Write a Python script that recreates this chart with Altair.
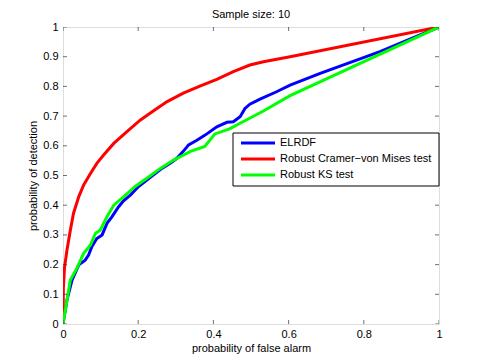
import altair as alt
import pandas as pd

# ELRDF (blue)
elrdf_x = [0.0, 0.0106, 0.024, 0.042, 0.059, 0.068, 0.077, 0.090, 0.104, 0.117, 0.130, 0.148, 0.161,
           0.179, 0.201, 0.223, 0.246, 0.263, 0.285, 0.303, 0.321, 0.334, 0.355, 0.378, 0.409, 0.436,
           0.453, 0.471, 0.484, 0.497, 0.524, 0.568, 0.604, 0.684, 0.843, 1.0]
elrdf_y = [0.0, 0.081, 0.148, 0.199, 0.215, 0.232, 0.261, 0.288, 0.300, 0.339, 0.361, 0.395, 0.415,
           0.434, 0.463, 0.485, 0.507, 0.524, 0.541, 0.558, 0.583, 0.603, 0.618, 0.636, 0.664, 0.679,
           0.681, 0.698, 0.726, 0.740, 0.757, 0.782, 0.804, 0.844, 0.917, 1.0]

# Robust Cramer-von Mises test (red)
cvm_x = [0.0, 0.001, 0.004, 0.0106, 0.0195, 0.028, 0.042, 0.055, 0.073, 0.090, 0.108, 0.135, 0.170, 0.206,
         0.241, 0.277, 0.320, 0.364, 0.409, 0.453, 0.497, 0.533, 0.604, 1.0]
cvm_y = [0.0, 0.120, 0.190, 0.249, 0.316, 0.373, 0.429, 0.468, 0.507, 0.541, 0.569, 0.608, 0.648, 0.687,
         0.718, 0.749, 0.777, 0.801, 0.824, 0.850, 0.872, 0.883, 0.900, 1.0]

# Robust KS test (green)
ks_x = [0.0, 0.0195, 0.037, 0.055, 0.073, 0.086, 0.099, 0.117, 0.135, 0.161, 0.192, 0.223, 0.259,
        0.294, 0.321, 0.339, 0.377, 0.404, 0.443, 0.471, 0.533, 0.604, 1.0]
ks_y = [0.0, 0.148, 0.188, 0.238, 0.266, 0.305, 0.316, 0.361, 0.400, 0.428, 0.463, 0.491, 0.524,
        0.552, 0.569, 0.581, 0.598, 0.640, 0.657, 0.676, 0.717, 0.769, 1.0]

series_names = ["ELRDF", "Robust Cramer\u2212von Mises test", "Robust KS test"]
series_colors = ["#0000FF", "#FF0000", "#00FF00"]
x_ticks = [0, 0.2, 0.4, 0.6, 0.8, 1]
y_ticks = [0, 0.1, 0.2, 0.3, 0.4, 0.5, 0.6, 0.7, 0.8, 0.9, 1]

rows = []
for name, xs, ys in zip(series_names, [elrdf_x, cvm_x, ks_x], [elrdf_y, cvm_y, ks_y]):
    for i, (a, b) in enumerate(zip(xs, ys)):
        rows.append({"series": name, "fpr": a, "tpr": b, "order": i})
df = pd.DataFrame(rows)

FONT = "Liberation Sans"
W, H = 376, 297

xscale = alt.Scale(domain=[0, 1], nice=False, zero=False)
yscale = alt.Scale(domain=[0, 1], nice=False, zero=False)

xaxis = alt.Axis(values=x_ticks, format="~g", ticks=False, domain=False, grid=False,
                 labelOverlap=False, labelFlush=False,
                 labelPadding=4, labelFontSize=11, labelColor="black", labelFont=FONT,
                 title="probability of false alarm", titleFont=FONT, titleFontSize=11,
                 titleFontWeight="normal", titleColor="black", titlePadding=3)
yaxis = alt.Axis(values=y_ticks, format="~g", ticks=False, domain=False, grid=False,
                 labelOverlap=False, labelFlush=False,
                 labelPadding=5, labelFontSize=11, labelColor="black", labelFont=FONT,
                 title="probability of detection", titleFont=FONT, titleFontSize=11,
                 titleFontWeight="normal", titleColor="black", titlePadding=4)

lines = alt.Chart(df).mark_line(strokeWidth=3, clip=True).encode(
    x=alt.X("fpr:Q", scale=xscale, axis=xaxis),
    y=alt.Y("tpr:Q", scale=yscale, axis=yaxis),
    color=alt.Color("series:N", scale=alt.Scale(domain=series_names, range=series_colors), legend=None),
    order="order:Q",
    detail="series:N",
)

# inward tick marks on all four sides
xt = pd.DataFrame([{"v": v, "e": e} for v in x_ticks for e in [0, 1]])
yt = pd.DataFrame([{"v": v, "e": e} for v in y_ticks for e in [0, 1]])
xtick_layer = alt.Chart(xt).mark_tick(orient="vertical", size=8, thickness=1, color="#333333", clip=True).encode(
    x=alt.X("v:Q", scale=xscale, axis=xaxis), y=alt.Y("e:Q", scale=yscale, axis=yaxis))
ytick_layer = alt.Chart(yt).mark_tick(orient="horizontal", size=8, thickness=1, color="#333333", clip=True).encode(
    y=alt.Y("v:Q", scale=yscale, axis=yaxis), x=alt.X("e:Q", scale=xscale, axis=xaxis))

# legend box
leg_left, leg_right, leg_top, leg_bottom = 170, 376, 106, 159
box = alt.Chart(pd.DataFrame({"a": [0]})).mark_rect(fill="white", stroke="black", strokeWidth=1).encode(
    x=alt.value(leg_left), x2=alt.value(leg_right), y=alt.value(leg_top), y2=alt.value(leg_bottom))
legend_layers = [box]
row_y = [116, 132, 148]
for name, col, ry in zip(series_names, series_colors, row_y):
    legend_layers.append(
        alt.Chart(pd.DataFrame({"a": [0]})).mark_rule(color=col, strokeWidth=3).encode(
            x=alt.value(178), x2=alt.value(212), y=alt.value(ry)))
    legend_layers.append(
        alt.Chart(pd.DataFrame({"a": [0]})).mark_text(
            text=name, align="left", baseline="middle", font=FONT, fontSize=11, color="black").encode(
            x=alt.value(217), y=alt.value(ry)))

chart = alt.layer(lines, xtick_layer, ytick_layer, *legend_layers).properties(
    width=W, height=H,
    title=alt.TitleParams("Sample size: 10", font=FONT, fontSize=11, fontWeight="normal",
                          color="black", offset=1, frame="group"),
    autosize=alt.AutoSizeParams(type="none"),
    padding={"left": 55, "top": 19, "right": 38, "bottom": 32},
).configure_view(stroke="#333333", strokeWidth=1).configure(background="white")

chart.save("out.html", embed_options={"renderer": "svg", "actions": False})
